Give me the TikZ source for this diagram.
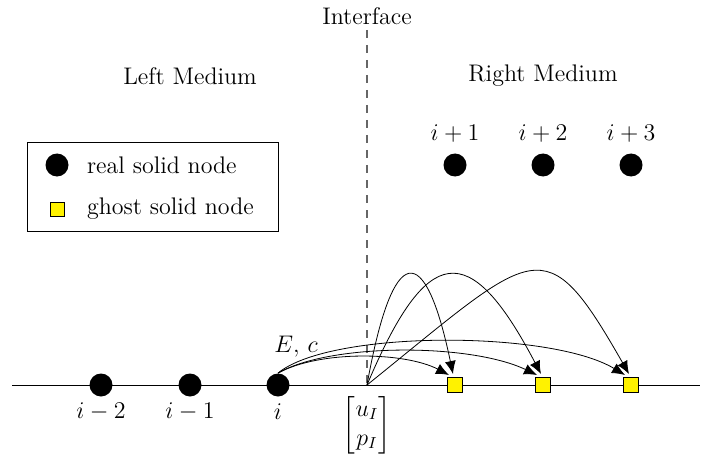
\documentclass[tikz,border=0pt]{standalone}
\usepackage{amsmath}
\usetikzlibrary{arrows.meta}
\begin{document}
\begin{tikzpicture}[x=0.5pt,y=-0.5pt,
  every node/.style={font=\fontsize{12}{14.4}\selectfont},
  realnode/.style={circle, fill=black, minimum size=11.5pt, inner sep=0pt},
  ghostnode/.style={rectangle, draw=black, line width=0.4pt, fill=yellow, minimum size=7.5pt, inner sep=0pt},
  lbl/.style={inner sep=1pt},
  arc/.style={-{Latex[length=6.5pt,width=5.5pt]}, line width=0.4pt}]
\useasboundingbox (0,0) rectangle (712,460);
% baseline and interface
\coordinate (L0) at (12,385);
\coordinate (L1) at (700,385);
\draw[line width=0.4pt] (L0) -- (L1);
\coordinate (I) at (367,385);
\coordinate (Itop) at (367,30);
\draw[dash pattern=on 4pt off 3.5pt, black!60, line width=0.6pt] (Itop) -- (I);
\node (ilabel) at (367,16) {Interface};
\node (lm) at (190,76) {Left Medium};
\node (rm) at (543,76) {Right Medium};
% real nodes on the line
\node[realnode] (n2) at (101,385) {};
\node[realnode] (n1) at (190,385) {};
\node[realnode] (n0) at (278,385) {};
\node[lbl] (t2) at (101,412) {$i-2$};
\node[lbl] (t1) at (190,412) {$i-1$};
\node[lbl] (t0) at (278,412) {$i$};
% ghost nodes
\node[ghostnode] (g1) at (455,385) {};
\node[ghostnode] (g2) at (543,385) {};
\node[ghostnode] (g3) at (631,385) {};
% arrow targets
\coordinate (a1) at (453,374);
\coordinate (a2) at (541,374);
\coordinate (a3) at (629,374);
\coordinate (b1) at (449,375);
\coordinate (b2) at (537,375);
\coordinate (b3) at (625,375);
% upper real nodes
\node[realnode] (u1) at (455,165) {};
\node[realnode] (u2) at (543,165) {};
\node[realnode] (u3) at (631,165) {};
\node[lbl] (s1) at (455,134) {$i+1$};
\node[lbl] (s2) at (543,134) {$i+2$};
\node[lbl] (s3) at (631,134) {$i+3$};
% labels
\node (ec) at (296,347) {$E,\,c$};
\node (uvec) at (367,425) {$\begin{bmatrix} u_I\\ p_I\end{bmatrix}$};
% arcs from node i
\draw[arc] (n0.north) .. controls (320,350) and (405,352) .. (b1);
\draw[arc] (n0.north) .. controls (330,343) and (470,343) .. (b2);
\draw[arc] (n0.north) .. controls (330,330) and (550,330) .. (b3);
% arcs from interface
\draw[arc] (I) .. controls (393,240) and (425,240) .. (a1);
\draw[arc] (I) .. controls (427,243) and (469,237) .. (a2);
\draw[arc] (I) .. controls (537,248) and (544,225) .. (a3);
% legend
\node[draw=black, line width=0.4pt, minimum width=125.5pt, minimum height=44.5pt, inner sep=0pt] (legend) at (152.5,186.5) {};
\node[realnode] (lr) at (57,165) {};
\node[ghostnode, minimum size=7pt] (lg) at (57,209) {};
\node[anchor=west] (lrt) at (80,165) {real solid node};
\node[anchor=west] (lgt) at (80,209) {ghost solid node};
\end{tikzpicture}
\end{document}
